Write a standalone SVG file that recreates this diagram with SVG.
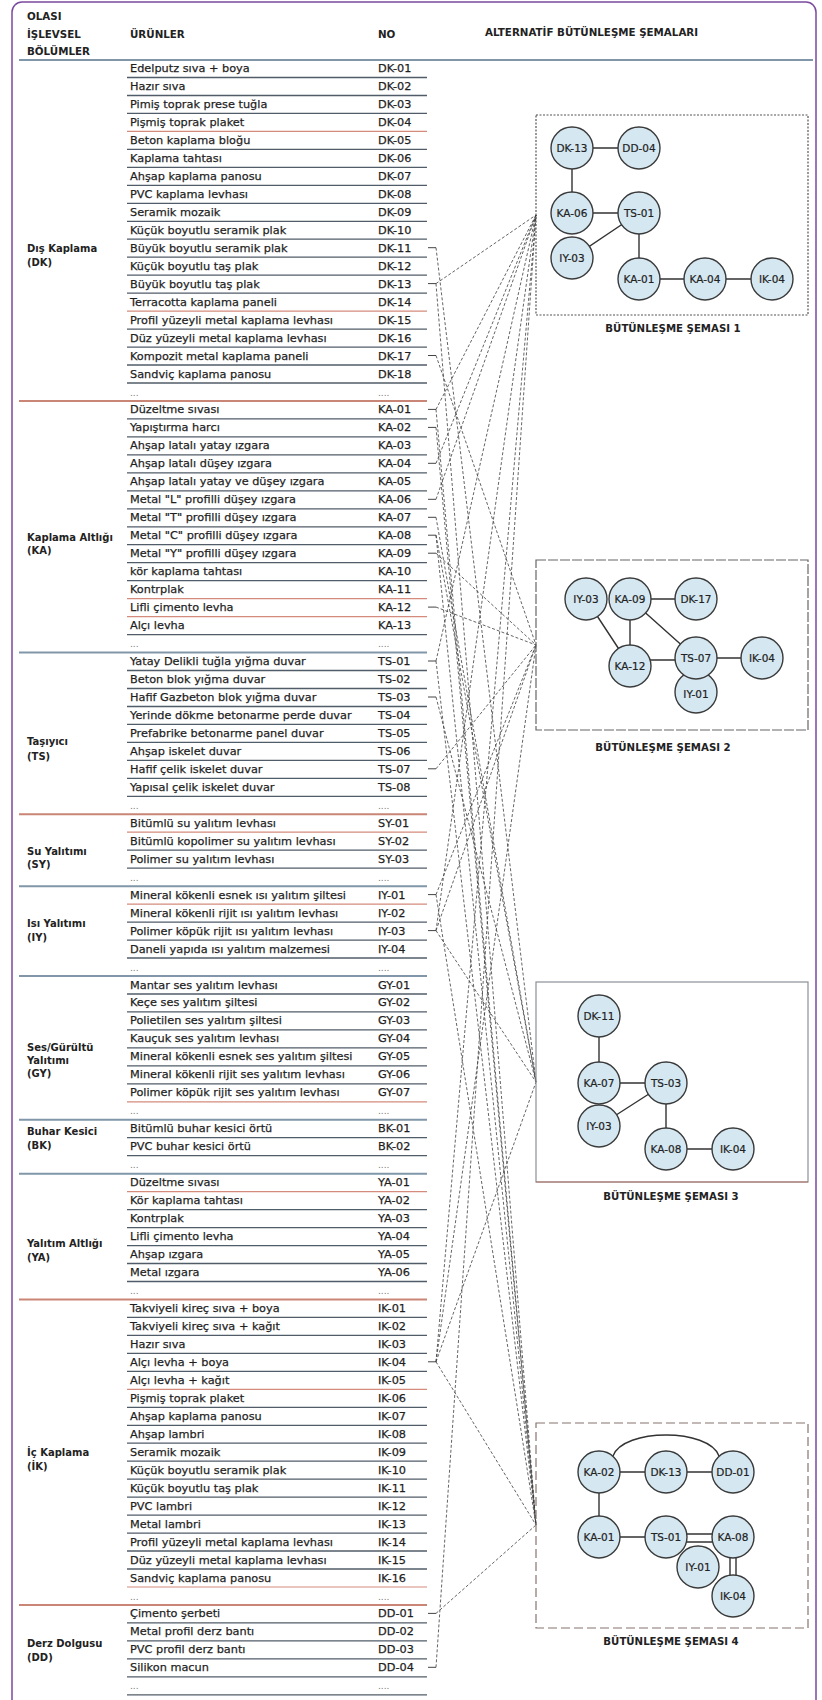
<svg xmlns="http://www.w3.org/2000/svg" width="822" height="1700" viewBox="0 0 822 1700">
<style>
.p{font-family:"DejaVu Sans","Liberation Sans",sans-serif;font-size:11.3px;fill:#1f1f1f;stroke:#1f1f1f;stroke-width:0.25}
.dots{font-family:"DejaVu Sans","Liberation Sans",sans-serif;font-size:9px;fill:#777}
.lb{font-family:"DejaVu Sans","Liberation Sans",sans-serif;font-size:10px;font-weight:bold;fill:#222}
.hd{font-family:"DejaVu Sans","Liberation Sans",sans-serif;font-size:10.3px;font-weight:bold;fill:#222}
.cap{font-family:"DejaVu Sans","Liberation Sans",sans-serif;font-size:10.2px;font-weight:bold;fill:#222;text-anchor:middle}
.rl{stroke:#505c68;stroke-width:1.3;fill:none}
.rr{stroke:#d58b7c;stroke-width:1.2;fill:none}
.sr{stroke:#c98575;stroke-width:2;fill:none}
.sb{stroke:#8197a9;stroke-width:2;fill:none}
.tk{stroke:#444;stroke-width:1;fill:none}
.cn{stroke:#3c3c3c;stroke-width:0.8;stroke-dasharray:3 2;fill:none}
.ed{stroke:#333;stroke-width:1.4;fill:none}
.nd circle{fill:#d5e8f1;stroke:#3a3a3a;stroke-width:1.4}
.nd text{font-family:"DejaVu Sans","Liberation Sans",sans-serif;font-size:10.5px;fill:#222;stroke:#222;stroke-width:0.2;text-anchor:middle}
</style>
<rect width="822" height="1700" fill="#fff"/>
<rect x="12" y="2" width="804" height="1730" rx="10" fill="none" stroke="#7b4a9e" stroke-width="1.5"/>

<!-- header -->
<g id="header">
<text class="hd" x="27" y="19.7">OLASI</text>
<text class="hd" x="27" y="37.7">İŞLEVSEL</text>
<text class="hd" x="27" y="54.7">BÖLÜMLER</text>
<text class="hd" x="130" y="37.7">ÜRÜNLER</text>
<text class="hd" x="378" y="37.7">NO</text>
<text class="hd" x="485" y="35.5">ALTERNATİF BÜTÜNLEŞME ŞEMALARI</text>
<path d="M19 60H813" stroke="#8197a9" stroke-width="2"/>
</g>

<!-- section labels -->
<g id="sections">
<text class="lb" x="27" y="251.7">Dış Kaplama</text><text class="lb" x="27" y="265.7">(DK)</text>
<text class="lb" x="27" y="540.7">Kaplama Altlığı</text><text class="lb" x="27" y="553.7">(KA)</text>
<text class="lb" x="27" y="745.2">Taşıyıcı</text><text class="lb" x="27" y="760.2">(TS)</text>
<text class="lb" x="27" y="854.7">Su Yalıtımı</text><text class="lb" x="27" y="868.2">(SY)</text>
<text class="lb" x="27" y="926.7">Isı Yalıtımı</text><text class="lb" x="27" y="940.7">(IY)</text>
<text class="lb" x="27" y="1050.7">Ses/Gürültü</text><text class="lb" x="27" y="1063.7">Yalıtımı</text><text class="lb" x="27" y="1076.7">(GY)</text>
<text class="lb" x="27" y="1134.7">Buhar Kesici</text><text class="lb" x="27" y="1148.7">(BK)</text>
<text class="lb" x="27" y="1246.7">Yalıtım Altlığı</text><text class="lb" x="27" y="1260.7">(YA)</text>
<text class="lb" x="27" y="1455.7">İç Kaplama</text><text class="lb" x="27" y="1469.7">(İK)</text>
<text class="lb" x="27" y="1646.7">Derz Dolgusu</text><text class="lb" x="27" y="1660.7">(DD)</text>
</g>

<!-- product rows -->
<g id="rows">
<g id="r-DK-01"><text class="p" x="130" y="72">Edelputz sıva + boya</text><text class="p" x="378" y="72">DK-01</text><path class="rl" d="M127 77.5H427"/></g>
<g id="r-DK-02"><text class="p" x="130" y="90">Hazır sıva</text><text class="p" x="378" y="90">DK-02</text><path class="rl" d="M127 95.5H427"/></g>
<g id="r-DK-03"><text class="p" x="130" y="107.9">Pimiş toprak prese tuğla</text><text class="p" x="378" y="107.9">DK-03</text><path class="rl" d="M127 113.4H427"/></g>
<g id="r-DK-04"><text class="p" x="130" y="125.9">Pişmiş toprak plaket</text><text class="p" x="378" y="125.9">DK-04</text><path class="rr" d="M127 131.4H427"/></g>
<g id="r-DK-05"><text class="p" x="130" y="143.9">Beton kaplama bloğu</text><text class="p" x="378" y="143.9">DK-05</text><path class="rl" d="M127 149.4H427"/></g>
<g id="r-DK-06"><text class="p" x="130" y="161.9">Kaplama tahtası</text><text class="p" x="378" y="161.9">DK-06</text><path class="rl" d="M127 167.4H427"/></g>
<g id="r-DK-07"><text class="p" x="130" y="179.8">Ahşap kaplama panosu</text><text class="p" x="378" y="179.8">DK-07</text><path class="rl" d="M127 185.3H427"/></g>
<g id="r-DK-08"><text class="p" x="130" y="197.8">PVC kaplama levhası</text><text class="p" x="378" y="197.8">DK-08</text><path class="rl" d="M127 203.3H427"/></g>
<g id="r-DK-09"><text class="p" x="130" y="215.8">Seramik mozaik</text><text class="p" x="378" y="215.8">DK-09</text><path class="rl" d="M127 221.3H427"/></g>
<g id="r-DK-10"><text class="p" x="130" y="233.7">Küçük boyutlu seramik plak</text><text class="p" x="378" y="233.7">DK-10</text><path class="rl" d="M127 239.2H427"/></g>
<g id="r-DK-11"><text class="p" x="130" y="251.7">Büyük boyutlu seramik plak</text><text class="p" x="378" y="251.7">DK-11</text><path class="rl" d="M127 257.2H427"/></g>
<g id="r-DK-12"><text class="p" x="130" y="269.7">Küçük boyutlu taş plak</text><text class="p" x="378" y="269.7">DK-12</text><path class="rl" d="M127 275.2H427"/></g>
<g id="r-DK-13"><text class="p" x="130" y="287.6">Büyük boyutlu taş plak</text><text class="p" x="378" y="287.6">DK-13</text><path class="rl" d="M127 293.1H427"/></g>
<g id="r-DK-14"><text class="p" x="130" y="305.6">Terracotta kaplama paneli</text><text class="p" x="378" y="305.6">DK-14</text><path class="rr" d="M127 311.1H427"/></g>
<g id="r-DK-15"><text class="p" x="130" y="323.6">Profil yüzeyli metal kaplama levhası</text><text class="p" x="378" y="323.6">DK-15</text><path class="rl" d="M127 329.1H427"/></g>
<g id="r-DK-16"><text class="p" x="130" y="341.6">Düz yüzeyli metal kaplama levhası</text><text class="p" x="378" y="341.6">DK-16</text><path class="rl" d="M127 347.1H427"/></g>
<g id="r-DK-17"><text class="p" x="130" y="359.5">Kompozit metal kaplama paneli</text><text class="p" x="378" y="359.5">DK-17</text><path class="rl" d="M127 365H427"/></g>
<g id="r-DK-18"><text class="p" x="130" y="377.5">Sandviç kaplama panosu</text><text class="p" x="378" y="377.5">DK-18</text><path class="rl" d="M127 383H427"/></g>
<g id="r-DK-xx"><text class="dots" x="130" y="395.5">...</text><text class="dots" x="378" y="395.5">....</text><path class="sr" d="M19 401H427"/></g>

<g id="r-KA-01"><text class="p" x="130" y="413.4">Düzeltme sıvası</text><text class="p" x="378" y="413.4">KA-01</text><path class="rl" d="M127 418.9H427"/></g>
<g id="r-KA-02"><text class="p" x="130" y="431.4">Yapıştırma harcı</text><text class="p" x="378" y="431.4">KA-02</text><path class="rl" d="M127 436.9H427"/></g>
<g id="r-KA-03"><text class="p" x="130" y="449.4">Ahşap latalı yatay ızgara</text><text class="p" x="378" y="449.4">KA-03</text><path class="rl" d="M127 454.9H427"/></g>
<g id="r-KA-04"><text class="p" x="130" y="467.3">Ahşap latalı düşey ızgara</text><text class="p" x="378" y="467.3">KA-04</text><path class="rl" d="M127 472.8H427"/></g>
<g id="r-KA-05"><text class="p" x="130" y="485.3">Ahşap latalı yatay ve düşey ızgara</text><text class="p" x="378" y="485.3">KA-05</text><path class="rl" d="M127 490.8H427"/></g>
<g id="r-KA-06"><text class="p" x="130" y="503.3">Metal "L" profilli düşey ızgara</text><text class="p" x="378" y="503.3">KA-06</text><path class="rl" d="M127 508.8H427"/></g>
<g id="r-KA-07"><text class="p" x="130" y="521.3">Metal "T" profilli düşey ızgara</text><text class="p" x="378" y="521.3">KA-07</text><path class="rl" d="M127 526.8H427"/></g>
<g id="r-KA-08"><text class="p" x="130" y="539.2">Metal "C" profilli düşey ızgara</text><text class="p" x="378" y="539.2">KA-08</text><path class="rl" d="M127 544.7H427"/></g>
<g id="r-KA-09"><text class="p" x="130" y="557.2">Metal "Y" profilli düşey ızgara</text><text class="p" x="378" y="557.2">KA-09</text><path class="rl" d="M127 562.7H427"/></g>
<g id="r-KA-10"><text class="p" x="130" y="575.2">kör kaplama tahtası</text><text class="p" x="378" y="575.2">KA-10</text><path class="rl" d="M127 580.7H427"/></g>
<g id="r-KA-11"><text class="p" x="130" y="593.1">Kontrplak</text><text class="p" x="378" y="593.1">KA-11</text><path class="rr" d="M127 598.6H427"/></g>
<g id="r-KA-12"><text class="p" x="130" y="611.1">Lifli çimento levha</text><text class="p" x="378" y="611.1">KA-12</text><path class="rr" d="M127 616.6H427"/></g>
<g id="r-KA-13"><text class="p" x="130" y="629.1">Alçı levha</text><text class="p" x="378" y="629.1">KA-13</text><path class="rl" d="M127 634.6H427"/></g>
<g id="r-KA-xx"><text class="dots" x="130" y="647">...</text><text class="dots" x="378" y="647">....</text><path class="sb" d="M19 652.5H427"/></g>

<g id="r-TS-01"><text class="p" x="130" y="665">Yatay Delikli tuğla yığma duvar</text><text class="p" x="378" y="665">TS-01</text><path class="rl" d="M127 670.5H427"/></g>
<g id="r-TS-02"><text class="p" x="130" y="683">Beton blok yığma duvar</text><text class="p" x="378" y="683">TS-02</text><path class="rl" d="M127 688.5H427"/></g>
<g id="r-TS-03"><text class="p" x="130" y="701">Hafif Gazbeton blok yığma duvar</text><text class="p" x="378" y="701">TS-03</text><path class="rl" d="M127 706.5H427"/></g>
<g id="r-TS-04"><text class="p" x="130" y="718.9">Yerinde dökme betonarme perde duvar</text><text class="p" x="378" y="718.9">TS-04</text><path class="rl" d="M127 724.4H427"/></g>
<g id="r-TS-05"><text class="p" x="130" y="736.9">Prefabrike betonarme panel duvar</text><text class="p" x="378" y="736.9">TS-05</text><path class="rl" d="M127 742.4H427"/></g>
<g id="r-TS-06"><text class="p" x="130" y="754.9">Ahşap iskelet duvar</text><text class="p" x="378" y="754.9">TS-06</text><path class="rl" d="M127 760.4H427"/></g>
<g id="r-TS-07"><text class="p" x="130" y="772.8">Hafif çelik iskelet duvar</text><text class="p" x="378" y="772.8">TS-07</text><path class="rl" d="M127 778.3H427"/></g>
<g id="r-TS-08"><text class="p" x="130" y="790.8">Yapısal çelik iskelet duvar</text><text class="p" x="378" y="790.8">TS-08</text><path class="rl" d="M127 796.3H427"/></g>
<g id="r-TS-xx"><text class="dots" x="130" y="808.8">...</text><text class="dots" x="378" y="808.8">....</text><path class="sr" d="M19 814.3H427"/></g>

<g id="r-SY-01"><text class="p" x="130" y="826.7">Bitümlü su yalıtım levhası</text><text class="p" x="378" y="826.7">SY-01</text><path class="rr" d="M127 832.2H427"/></g>
<g id="r-SY-02"><text class="p" x="130" y="844.7">Bitümlü kopolimer su yalıtım levhası</text><text class="p" x="378" y="844.7">SY-02</text><path class="rl" d="M127 850.2H427"/></g>
<g id="r-SY-03"><text class="p" x="130" y="862.7">Polimer su yalıtım levhası</text><text class="p" x="378" y="862.7">SY-03</text><path class="rl" d="M127 868.2H427"/></g>
<g id="r-SY-xx"><text class="dots" x="130" y="880.7">...</text><text class="dots" x="378" y="880.7">....</text><path class="sb" d="M19 886.2H427"/></g>

<g id="r-IY-01"><text class="p" x="130" y="898.6">Mineral kökenli esnek ısı yalıtım şiltesi</text><text class="p" x="378" y="898.6">IY-01</text><path class="rr" d="M127 904.1H427"/></g>
<g id="r-IY-02"><text class="p" x="130" y="916.6">Mineral kökenli rijit ısı yalıtım levhası</text><text class="p" x="378" y="916.6">IY-02</text><path class="rl" d="M127 922.1H427"/></g>
<g id="r-IY-03"><text class="p" x="130" y="934.6">Polimer köpük rijit ısı yalıtım levhası</text><text class="p" x="378" y="934.6">IY-03</text><path class="rl" d="M127 940.1H427"/></g>
<g id="r-IY-04"><text class="p" x="130" y="952.5">Daneli yapıda ısı yalıtım malzemesi</text><text class="p" x="378" y="952.5">IY-04</text><path class="rl" d="M127 958H427"/></g>
<g id="r-IY-xx"><text class="dots" x="130" y="970.5">...</text><text class="dots" x="378" y="970.5">....</text><path class="sb" d="M19 976H427"/></g>

<g id="r-GY-01"><text class="p" x="130" y="988.5">Mantar ses yalıtım levhası</text><text class="p" x="378" y="988.5">GY-01</text><path class="rl" d="M127 994H427"/></g>
<g id="r-GY-02"><text class="p" x="130" y="1006.4">Keçe ses yalıtım şiltesi</text><text class="p" x="378" y="1006.4">GY-02</text><path class="rl" d="M127 1011.9H427"/></g>
<g id="r-GY-03"><text class="p" x="130" y="1024.4">Polietilen ses yalıtım şiltesi</text><text class="p" x="378" y="1024.4">GY-03</text><path class="rl" d="M127 1029.9H427"/></g>
<g id="r-GY-04"><text class="p" x="130" y="1042.4">Kauçuk ses yalıtım levhası</text><text class="p" x="378" y="1042.4">GY-04</text><path class="rl" d="M127 1047.9H427"/></g>
<g id="r-GY-05"><text class="p" x="130" y="1060.4">Mineral kökenli esnek ses yalıtım şiltesi</text><text class="p" x="378" y="1060.4">GY-05</text><path class="rl" d="M127 1065.9H427"/></g>
<g id="r-GY-06"><text class="p" x="130" y="1078.3">Mineral kökenli rijit ses yalıtım levhası</text><text class="p" x="378" y="1078.3">GY-06</text><path class="rl" d="M127 1083.8H427"/></g>
<g id="r-GY-07"><text class="p" x="130" y="1096.3">Polimer köpük rijit ses yalıtım levhası</text><text class="p" x="378" y="1096.3">GY-07</text><path class="rr" d="M127 1101.8H427"/></g>
<g id="r-GY-xx"><text class="dots" x="130" y="1114.3">...</text><text class="dots" x="378" y="1114.3">....</text><path class="sb" d="M19 1119.8H427"/></g>

<g id="r-BK-01"><text class="p" x="130" y="1132.2">Bitümlü buhar kesici örtü</text><text class="p" x="378" y="1132.2">BK-01</text><path class="rl" d="M127 1137.7H427"/></g>
<g id="r-BK-02"><text class="p" x="130" y="1150.2">PVC buhar kesici örtü</text><text class="p" x="378" y="1150.2">BK-02</text><path class="rl" d="M127 1155.7H427"/></g>
<g id="r-BK-xx"><text class="dots" x="130" y="1168.2">...</text><text class="dots" x="378" y="1168.2">....</text><path class="sb" d="M19 1173.7H427"/></g>

<g id="r-YA-01"><text class="p" x="130" y="1186.1">Düzeltme sıvası</text><text class="p" x="378" y="1186.1">YA-01</text><path class="rr" d="M127 1191.6H427"/></g>
<g id="r-YA-02"><text class="p" x="130" y="1204.1">Kör kaplama tahtası</text><text class="p" x="378" y="1204.1">YA-02</text><path class="rl" d="M127 1209.6H427"/></g>
<g id="r-YA-03"><text class="p" x="130" y="1222.1">Kontrplak</text><text class="p" x="378" y="1222.1">YA-03</text><path class="rl" d="M127 1227.6H427"/></g>
<g id="r-YA-04"><text class="p" x="130" y="1240.1">Lifli çimento levha</text><text class="p" x="378" y="1240.1">YA-04</text><path class="rl" d="M127 1245.6H427"/></g>
<g id="r-YA-05"><text class="p" x="130" y="1258">Ahşap ızgara</text><text class="p" x="378" y="1258">YA-05</text><path class="rl" d="M127 1263.5H427"/></g>
<g id="r-YA-06"><text class="p" x="130" y="1276">Metal ızgara</text><text class="p" x="378" y="1276">YA-06</text><path class="rl" d="M127 1281.5H427"/></g>
<g id="r-YA-xx"><text class="dots" x="130" y="1294">...</text><text class="dots" x="378" y="1294">....</text><path class="sr" d="M19 1299.5H427"/></g>

<g id="r-IK-01"><text class="p" x="130" y="1311.9">Takviyeli kireç sıva + boya</text><text class="p" x="378" y="1311.9">IK-01</text><path class="rl" d="M127 1317.4H427"/></g>
<g id="r-IK-02"><text class="p" x="130" y="1329.9">Takviyeli kireç sıva + kağıt</text><text class="p" x="378" y="1329.9">IK-02</text><path class="rl" d="M127 1335.4H427"/></g>
<g id="r-IK-03"><text class="p" x="130" y="1347.9">Hazır sıva</text><text class="p" x="378" y="1347.9">IK-03</text><path class="rl" d="M127 1353.4H427"/></g>
<g id="r-IK-04"><text class="p" x="130" y="1365.8">Alçı levha + boya</text><text class="p" x="378" y="1365.8">IK-04</text><path class="rl" d="M127 1371.3H427"/></g>
<g id="r-IK-05"><text class="p" x="130" y="1383.8">Alçı levha + kağıt</text><text class="p" x="378" y="1383.8">IK-05</text><path class="rr" d="M127 1389.3H427"/></g>
<g id="r-IK-06"><text class="p" x="130" y="1401.8">Pişmiş toprak plaket</text><text class="p" x="378" y="1401.8">IK-06</text><path class="rl" d="M127 1407.3H427"/></g>
<g id="r-IK-07"><text class="p" x="130" y="1419.8">Ahşap kaplama panosu</text><text class="p" x="378" y="1419.8">IK-07</text><path class="rl" d="M127 1425.3H427"/></g>
<g id="r-IK-08"><text class="p" x="130" y="1437.7">Ahşap lambri</text><text class="p" x="378" y="1437.7">IK-08</text><path class="rl" d="M127 1443.2H427"/></g>
<g id="r-IK-09"><text class="p" x="130" y="1455.7">Seramik mozaik</text><text class="p" x="378" y="1455.7">IK-09</text><path class="rl" d="M127 1461.2H427"/></g>
<g id="r-IK-10"><text class="p" x="130" y="1473.7">Küçük boyutlu seramik plak</text><text class="p" x="378" y="1473.7">IK-10</text><path class="rl" d="M127 1479.2H427"/></g>
<g id="r-IK-11"><text class="p" x="130" y="1491.6">Küçük boyutlu taş plak</text><text class="p" x="378" y="1491.6">IK-11</text><path class="rl" d="M127 1497.1H427"/></g>
<g id="r-IK-12"><text class="p" x="130" y="1509.6">PVC lambri</text><text class="p" x="378" y="1509.6">IK-12</text><path class="rl" d="M127 1515.1H427"/></g>
<g id="r-IK-13"><text class="p" x="130" y="1527.6">Metal lambri</text><text class="p" x="378" y="1527.6">IK-13</text><path class="rl" d="M127 1533.1H427"/></g>
<g id="r-IK-14"><text class="p" x="130" y="1545.5">Profil yüzeyli metal kaplama levhası</text><text class="p" x="378" y="1545.5">IK-14</text><path class="rl" d="M127 1551H427"/></g>
<g id="r-IK-15"><text class="p" x="130" y="1563.5">Düz yüzeyli metal kaplama levhası</text><text class="p" x="378" y="1563.5">IK-15</text><path class="rl" d="M127 1569H427"/></g>
<g id="r-IK-16"><text class="p" x="130" y="1581.5">Sandviç kaplama panosu</text><text class="p" x="378" y="1581.5">IK-16</text><path class="rr" d="M127 1587H427"/></g>
<g id="r-IK-xx"><text class="dots" x="130" y="1599.5">...</text><text class="dots" x="378" y="1599.5">....</text><path class="sr" d="M19 1605H427"/></g>

<g id="r-DD-01"><text class="p" x="130" y="1617.4">Çimento şerbeti</text><text class="p" x="378" y="1617.4">DD-01</text><path class="rl" d="M127 1622.9H427"/></g>
<g id="r-DD-02"><text class="p" x="130" y="1635.4">Metal profil derz bantı</text><text class="p" x="378" y="1635.4">DD-02</text><path class="rl" d="M127 1640.9H427"/></g>
<g id="r-DD-03"><text class="p" x="130" y="1653.4">PVC profil derz bantı</text><text class="p" x="378" y="1653.4">DD-03</text><path class="rl" d="M127 1658.9H427"/></g>
<g id="r-DD-04"><text class="p" x="130" y="1671.3">Silikon macun</text><text class="p" x="378" y="1671.3">DD-04</text><path class="rl" d="M127 1676.8H427"/></g>
<g id="r-DD-xx"><text class="dots" x="130" y="1689.3">...</text><text class="dots" x="378" y="1689.3">....</text><path class="rl" d="M127 1694.8H427"/></g>
</g>

<!-- connectors: row ticks and dashed links to the schema frames -->
<g id="connectors">
<path class="tk" d="M428 247.7H436M428 283.6H436M428 355.5H436M428 409.4H436M428 427.4H436M428 463.3H436M428 499.3H436M428 517.3H436M428 535.2H436M428 553.2H436M428 607.1H436M428 661H436M428 697H436M428 768.8H436M428 894.6H436M428 930.6H436M428 1361.8H436M428 1613.4H436M428 1667.3H436"/>
<path class="cn" d="M436 283.6L536 215M436 409.4L536 215M436 463.3L536 215M436 499.3L536 215M436 661L536 215M436 930.6L536 215M436 1361.8L536 215M436 1667.3L536 215"/>
<path class="cn" d="M436 355.5L536 645M436 553.2L536 645M436 607.1L536 645M436 768.8L536 645M436 894.6L536 645M436 930.6L536 645M436 1361.8L536 645"/>
<path class="cn" d="M436 247.7L536 1082M436 517.3L536 1082M436 535.2L536 1082M436 697L536 1082M436 930.6L536 1082M436 1361.8L536 1082"/>
<path class="cn" d="M436 283.6L536 1525M436 409.4L536 1525M436 427.4L536 1525M436 535.2L536 1525M436 661L536 1525M436 894.6L536 1525M436 1361.8L536 1525M436 1613.4L536 1525"/>
</g>

<!-- schema frames and captions -->
<g id="frames">
<rect x="536" y="115" width="272" height="200" fill="none" stroke="#555" stroke-width="1.2" stroke-dasharray="2 1.5"/>
<text class="cap" x="673" y="331.5">BÜTÜNLEŞME ŞEMASI 1</text>
<rect x="536" y="560" width="272" height="170" fill="none" stroke="#666" stroke-width="1.2" stroke-dasharray="10 2"/>
<text class="cap" x="663" y="750.5">BÜTÜNLEŞME ŞEMASI 2</text>
<rect x="536" y="982" width="272" height="200" fill="none" stroke="#8a8f96" stroke-width="1.2"/>
<path d="M536 1182H808" stroke="#b8776a" stroke-width="1.2"/>
<text class="cap" x="671" y="1199.5">BÜTÜNLEŞME ŞEMASI 3</text>
<rect x="536" y="1423" width="272" height="205" fill="none" stroke="#857470" stroke-width="1.2" stroke-dasharray="9 4"/>
<text class="cap" x="671" y="1644.5">BÜTÜNLEŞME ŞEMASI 4</text>
</g>

<!-- schema edges -->
<g id="edges">
<path class="ed" d="M572 148H639M572 148V213M572 213H639M639 213L572 258M639 213V279M639 279H772"/>
<path class="ed" d="M630 599H696M586 599L630 666M630 599V666M630 599L696 658M630 660H696M696 658H762"/>
<path class="ed" d="M599 1016V1083M599 1083H666M666 1083L599 1126M666 1083V1149M666 1149H733"/>
<path class="ed" d="M599 1472H733M613 1456C623 1428 709 1428 719 1456M599 1472V1537M599 1537H666M666 1534H733M666 1542H733M730 1537V1596M736 1537V1596"/>
</g>

<!-- schema 1 nodes -->
<g id="s1-DK-13" class="nd"><circle cx="572" cy="148" r="21"/><text x="572" y="151.8">DK-13</text></g>
<g id="s1-DD-04" class="nd"><circle cx="639" cy="148" r="21"/><text x="639" y="151.8">DD-04</text></g>
<g id="s1-KA-06" class="nd"><circle cx="572" cy="213" r="21"/><text x="572" y="216.8">KA-06</text></g>
<g id="s1-TS-01" class="nd"><circle cx="639" cy="213" r="21"/><text x="639" y="216.8">TS-01</text></g>
<g id="s1-IY-03" class="nd"><circle cx="572" cy="258" r="21"/><text x="572" y="261.8">IY-03</text></g>
<g id="s1-KA-01" class="nd"><circle cx="639" cy="279" r="21"/><text x="639" y="282.8">KA-01</text></g>
<g id="s1-KA-04" class="nd"><circle cx="705" cy="279" r="21"/><text x="705" y="282.8">KA-04</text></g>
<g id="s1-IK-04" class="nd"><circle cx="772" cy="279" r="21"/><text x="772" y="282.8">IK-04</text></g>

<!-- schema 2 nodes -->
<g id="s2-IY-03" class="nd"><circle cx="586" cy="599" r="21"/><text x="586" y="602.8">IY-03</text></g>
<g id="s2-KA-09" class="nd"><circle cx="630" cy="599" r="21"/><text x="630" y="602.8">KA-09</text></g>
<g id="s2-DK-17" class="nd"><circle cx="696" cy="599" r="21"/><text x="696" y="602.8">DK-17</text></g>
<g id="s2-KA-12" class="nd"><circle cx="630" cy="666" r="21"/><text x="630" y="669.8">KA-12</text></g>
<g id="s2-IY-01" class="nd"><circle cx="696" cy="692" r="21"/><text x="696" y="698">IY-01</text></g>
<g id="s2-TS-07" class="nd"><circle cx="696" cy="658" r="21"/><text x="696" y="661.8">TS-07</text></g>
<g id="s2-IK-04" class="nd"><circle cx="762" cy="658" r="21"/><text x="762" y="661.8">IK-04</text></g>

<!-- schema 3 nodes -->
<g id="s3-DK-11" class="nd"><circle cx="599" cy="1016" r="21"/><text x="599" y="1019.8">DK-11</text></g>
<g id="s3-KA-07" class="nd"><circle cx="599" cy="1083" r="21"/><text x="599" y="1086.8">KA-07</text></g>
<g id="s3-TS-03" class="nd"><circle cx="666" cy="1083" r="21"/><text x="666" y="1086.8">TS-03</text></g>
<g id="s3-IY-03" class="nd"><circle cx="599" cy="1126" r="21"/><text x="599" y="1129.8">IY-03</text></g>
<g id="s3-KA-08" class="nd"><circle cx="666" cy="1149" r="21"/><text x="666" y="1152.8">KA-08</text></g>
<g id="s3-IK-04" class="nd"><circle cx="733" cy="1149" r="21"/><text x="733" y="1152.8">IK-04</text></g>

<!-- schema 4 nodes -->
<g id="s4-KA-02" class="nd"><circle cx="599" cy="1472" r="21"/><text x="599" y="1475.8">KA-02</text></g>
<g id="s4-DK-13" class="nd"><circle cx="666" cy="1472" r="21"/><text x="666" y="1475.8">DK-13</text></g>
<g id="s4-DD-01" class="nd"><circle cx="733" cy="1472" r="21"/><text x="733" y="1475.8">DD-01</text></g>
<g id="s4-KA-01" class="nd"><circle cx="599" cy="1537" r="21"/><text x="599" y="1540.8">KA-01</text></g>
<g id="s4-TS-01" class="nd"><circle cx="666" cy="1537" r="21"/><text x="666" y="1540.8">TS-01</text></g>
<g id="s4-KA-08" class="nd"><circle cx="733" cy="1537" r="21"/><text x="733" y="1540.8">KA-08</text></g>
<g id="s4-IY-01" class="nd"><circle cx="698" cy="1567" r="21"/><text x="698" y="1570.8">IY-01</text></g>
<g id="s4-IK-04" class="nd"><circle cx="733" cy="1596" r="21"/><text x="733" y="1599.8">IK-04</text></g>
</svg>
